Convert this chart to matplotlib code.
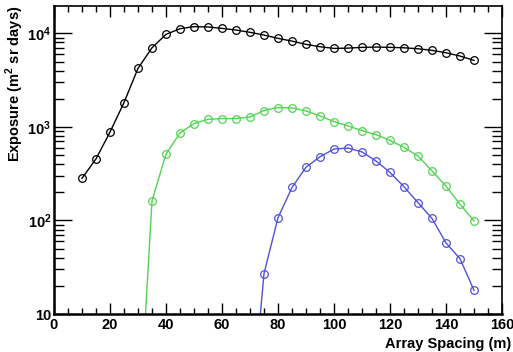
import math
import matplotlib
matplotlib.use("Agg")
import matplotlib.pyplot as plt
from matplotlib.ticker import MultipleLocator, LogLocator, FuncFormatter, NullFormatter

plt.rcParams['font.family'] = ['Liberation Sans', 'DejaVu Sans']
plt.rcParams['mathtext.fontset'] = 'custom'
plt.rcParams['mathtext.rm'] = 'Liberation Sans:bold'
plt.rcParams['mathtext.bf'] = 'Liberation Sans:bold'

# array spacing (m)
spacing_all = [10, 15, 20, 25, 30, 35, 40, 45, 50, 55, 60, 65, 70, 75, 80,
               85, 90, 95, 100, 105, 110, 115, 120, 125, 130, 135, 140, 145, 150]
exposure_black = [282, 455, 880, 1820, 4220, 7010, 9750, 11200, 11800, 11700,
                  11300, 10850, 10250, 9590, 8840, 8260, 7620, 7190, 6900, 6950,
                  7080, 7130, 7080, 7010, 6840, 6580, 6200, 5720, 5140]

spacing_green = [30, 35, 40, 45, 50, 55, 60, 65, 70, 75, 80, 85, 90, 95, 100,
                 105, 110, 115, 120, 125, 130, 135, 140, 145, 150]
exposure_green = [0.4, 162, 513, 861, 1085, 1205, 1227, 1227, 1277, 1496, 1611,
                  1597, 1480, 1308, 1140, 1024, 913, 826, 718, 604, 488, 339,
                  232, 149, 99]

spacing_blue = [70, 75, 80, 85, 90, 95, 100, 105, 110, 115, 120, 125, 130,
                135, 140, 145, 150]
exposure_blue = [0.6, 27, 107, 225, 371, 479, 580, 594, 540, 432, 326, 229,
                 155, 105, 57.5, 39, 17.9]

fig = plt.figure(figsize=(5.13, 3.52), dpi=100)
ax = fig.add_axes([54 / 513, 1 - 314 / 352, 448 / 513, 308 / 352])

series = [
    (spacing_all, exposure_black, 'black'),
    (spacing_green, exposure_green, '#52d452'),
    (spacing_blue, exposure_blue, '#5050dc'),
]
for xs, ys, col in series:
    ax.plot(xs, ys, color=col, lw=1.0, zorder=2)
    # the sub-threshold point only anchors the line, it is off scale
    mx = [x for x, y in zip(xs, ys) if y >= 10]
    my = [y for y in ys if y >= 10]
    ax.plot(mx, my, ls='none', marker='o', ms=5.5, mfc='none', mec=col,
            mew=0.9, zorder=3)

ax.set_yscale('log')
ax.set_xlim(0, 160)
ax.set_ylim(10, 19600)

ax.xaxis.set_major_locator(MultipleLocator(20))
ax.xaxis.set_minor_locator(MultipleLocator(5))
ax.yaxis.set_major_locator(LogLocator(base=10, numticks=10))
ax.yaxis.set_minor_locator(LogLocator(base=10, subs=range(2, 10), numticks=20))
ax.yaxis.set_minor_formatter(NullFormatter())


def ylab(v, pos):
    if v < 11:
        return '10'
    return r'$\mathbf{10^{%d}}$' % round(math.log10(v))


ax.yaxis.set_major_formatter(FuncFormatter(ylab))

ax.tick_params(which='both', direction='in', top=True, right=True, width=1.0)
ax.tick_params(axis='x', which='major', length=8, labelsize=10.5, pad=3)
ax.tick_params(axis='x', which='minor', length=4)
ax.tick_params(axis='y', which='major', length=13, labelsize=10.5, pad=2)
ax.tick_params(axis='y', which='minor', length=7)
for lbl in ax.get_xticklabels() + ax.get_yticklabels():
    lbl.set_fontweight('bold')

for side in ['left', 'bottom']:
    ax.spines[side].set_linewidth(1.8)
for side in ['top', 'right']:
    ax.spines[side].set_linewidth(1.2)

fig.text(511 / 513, 1 - 348 / 352, 'Array Spacing (m)', ha='right', va='baseline',
         fontsize=10.5, fontweight='bold')
fig.text(15 / 513, 1 - 6 / 352, r'Exposure (m$^{2}$ sr days)', ha='center',
         va='top', rotation=90, fontsize=10.5, fontweight='bold')

fig.savefig('out.png', dpi=100)
